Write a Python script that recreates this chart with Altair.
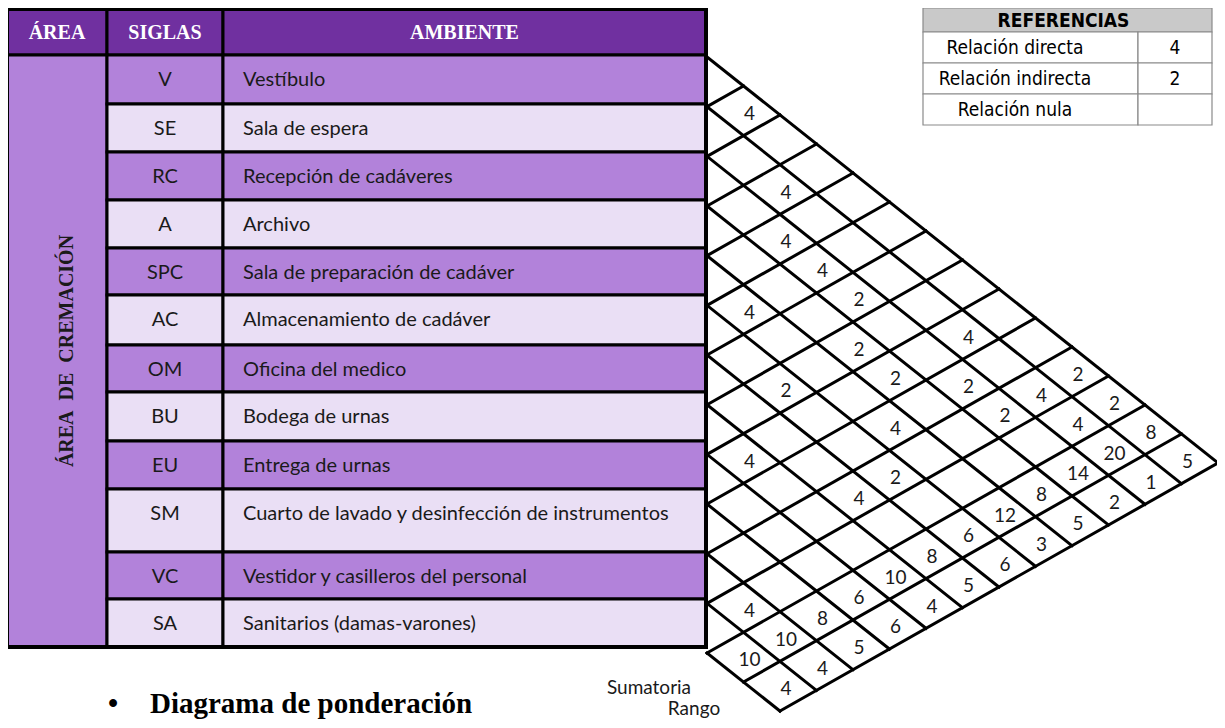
import altair as alt
import pandas as pd

# ---------------- data ----------------
siglas = ["V", "SE", "RC", "A", "SPC", "AC", "OM", "BU", "EU", "SM", "VC", "SA"]
ambientes = [
    "Vestíbulo",
    "Sala de espera",
    "Recepción de cadáveres",
    "Archivo",
    "Sala de preparación de cadáver",
    "Almacenamiento de cadáver",
    "Oficina del medico",
    "Bodega de urnas",
    "Entrega de urnas",
    "Cuarto de lavado y desinfección de instrumentos",
    "Vestidor y casilleros del personal",
    "Sanitarios (damas-varones)",
]
headers = ["ÁREA", "SIGLAS", "AMBIENTE"]
area_words = ["ÁREA", "DE", "CREMACIÓN"]

rel_from = ["V", "SE", "RC", "RC", "RC", "SPC", "A", "SE", "A", "RC", "AC",
            "RC", "SPC", "BU", "AC", "OM", "VC", "V", "SE", "V", "SE"]
rel_to = ["SE", "A", "SPC", "AC", "OM", "AC", "BU", "EU", "EU", "SM", "BU",
          "VC", "SM", "EU", "VC", "VC", "SA", "VC", "VC", "SA", "SA"]
rel_val = [4, 4, 4, 4, 2, 4, 2, 4, 2, 2, 2,
           2, 4, 4, 2, 4, 4, 2, 4, 2, 4]

sumatoria = [8, 20, 14, 8, 12, 6, 8, 10, 6, 8, 10, 10]
rango = [5, 1, 2, 5, 3, 6, 5, 4, 6, 5, 4, 4]

ref_title = "REFERENCIAS"
ref_labels = ["Relación directa", "Relación indirecta", "Relación nula"]
ref_values = ["4", "2", ""]

strip_labels = ["Sumatoria", "Rango"]
title_text = "Diagrama de ponderación"

# ---------------- layout ----------------
W, H = 1209, 712
COLS = [7, 107, 223, 706]
HEAD = [9, 55]
ROWS = [55, 104, 152, 200, 248, 295, 345, 392, 441, 489, 552, 599, 647]
C_HEAD, C_DARK, C_LIGHT = "#7030A0", "#B282DA", "#EADFF5"
TXT = "#1a1a1a"
NARROW = "Liberation Sans Narrow, Arial Narrow, DejaVu Sans Condensed, Liberation Sans"

X0, Y0, DX, DY, STEP = 707.0, 57.0, 36.5, 29.0, 49.67
n = len(siglas)
NB = n + 2  # pair triangle + sumatoria + rango strips


def lat(a, b):
    return X0 + (b - a) * DX, Y0 + a * (STEP - DY) + b * DY


xs = alt.Scale(domain=[8, 8 + W], nice=False, zero=False)
ys = alt.Scale(domain=[8, 8 + H], nice=False, zero=False, reverse=True)
X = lambda f: alt.X(f"{f}:Q", scale=xs, axis=None)
Y = lambda f: alt.Y(f"{f}:Q", scale=ys, axis=None)

# ---------------- table rectangles ----------------
rects = []
for k, h in enumerate(headers):
    rects.append(dict(x=COLS[k], x2=COLS[k + 1], y=HEAD[0], y2=HEAD[1], fill=C_HEAD))
rects.append(dict(x=COLS[0], x2=COLS[1], y=ROWS[0], y2=ROWS[-1], fill=C_DARK))
for i in range(n):
    c = C_DARK if i % 2 == 0 else C_LIGHT
    for k in (1, 2):
        rects.append(dict(x=COLS[k], x2=COLS[k + 1], y=ROWS[i], y2=ROWS[i + 1], fill=c))
rect_df = pd.DataFrame(rects)
table = alt.Chart(rect_df).mark_rect(stroke="black", strokeWidth=3).encode(
    x=X("x"), x2="x2", y=Y("y"), y2="y2", fill=alt.Color("fill:N", scale=None)
)
outer = alt.Chart(pd.DataFrame([dict(x=COLS[0], x2=COLS[-1], y=HEAD[0], y2=ROWS[-1])])).mark_rect(
    fill=None, stroke="black", strokeWidth=4
).encode(x=X("x"), x2="x2", y=Y("y"), y2="y2")

head_df = pd.DataFrame([dict(t=h, x=(COLS[k] + COLS[k + 1]) / 2, y=(HEAD[0] + HEAD[1]) / 2 + 1)
                        for k, h in enumerate(headers)])
head_txt = alt.Chart(head_df).mark_text(
    font="Liberation Serif", fontWeight="bold", fontSize=20, color="white", baseline="middle"
).encode(x=X("x"), y=Y("y"), text="t:N")

area_label = "\u00a0\u00a0".join(area_words)
area_txt = alt.Chart(pd.DataFrame([dict(t=area_label, x=67, y=(ROWS[0] + ROWS[-1]) / 2)])).mark_text(
    font="Liberation Serif", fontWeight="bold", fontSize=20, color=TXT, angle=270, baseline="middle"
).encode(x=X("x"), y=Y("y"), text="t:N")

body_df = pd.DataFrame(dict(sig=siglas, amb=ambientes, y=[r + 25 for r in ROWS[:-1]]))
body_df["xs"] = (COLS[1] + COLS[2]) / 2
body_df["xa"] = COLS[2] + 20
sig_txt = alt.Chart(body_df).mark_text(
    font="Lato", fontSize=20, color=TXT, baseline="middle"
).encode(x=X("xs"), y=Y("y"), text="sig:N")
amb_txt = alt.Chart(body_df).mark_text(
    font="Lato", fontSize=20, color=TXT, baseline="middle", align="left"
).encode(x=X("xa"), y=Y("y"), text="amb:N")

# ---------------- lattice ----------------
segs = []
for k in range(n + 1):
    x1, y1 = lat(k, k)
    x2, y2 = lat(k, NB)
    segs.append(dict(x=x1, y=y1, x2=x2, y2=y2))
for k in range(1, NB + 1):
    a0 = min(k, n)
    x1, y1 = lat(a0, k)
    x2, y2 = lat(0, k)
    segs.append(dict(x=x1, y=y1, x2=x2, y2=y2))
lines = alt.Chart(pd.DataFrame(segs)).mark_rule(color="black", strokeWidth=3, strokeCap="square").encode(
    x=X("x"), y=Y("y"), x2="x2", y2="y2"
)

cells = []
idx = {s: i for i, s in enumerate(siglas)}
for f, t, v in zip(rel_from, rel_to, rel_val):
    cells.append((idx[f] + 0.5, idx[t] + 0.5, str(v)))
for i, v in enumerate(sumatoria):
    cells.append((i + 0.5, n + 0.5, str(v)))
for i, v in enumerate(rango):
    cells.append((i + 0.5, n + 1.5, str(v)))
cell_df = pd.DataFrame([dict(x=lat(a, b)[0] + 6, y=lat(a, b)[1] + 3, t=t) for a, b, t in cells])
nums = alt.Chart(cell_df).mark_text(
    font="Lato", fontSize=19, color=TXT, baseline="middle"
).encode(x=X("x"), y=Y("y"), text="t:N")

strip_df = pd.DataFrame(dict(t=strip_labels, x=[649, 694], y=[688, 709]))
strip_txt = alt.Chart(strip_df).mark_text(
    font="Lato", fontSize=19, color=TXT, baseline="middle"
).encode(x=X("x"), y=Y("y"), text="t:N")

# ---------------- references ----------------
RX = [923, 1138, 1212]
RY = [8, 32, 63, 94, 125]
ref_rects = [dict(x=RX[0], x2=RX[2], y=RY[0], y2=RY[1], fill="#C9C9C9")]
for r in range(3):
    for c in range(2):
        ref_rects.append(dict(x=RX[c], x2=RX[c + 1], y=RY[r + 1], y2=RY[r + 2], fill="white"))
ref_box = alt.Chart(pd.DataFrame(ref_rects)).mark_rect(stroke="#8a8a8a", strokeWidth=1.2).encode(
    x=X("x"), x2="x2", y=Y("y"), y2="y2", fill=alt.Color("fill:N", scale=None)
)
ref_head = alt.Chart(pd.DataFrame([dict(t=ref_title, x=(RX[0] + RX[2]) / 2 - 4, y=21)])).mark_text(
    font=NARROW, fontWeight="bold", fontSize=19, color="black", baseline="middle"
).encode(x=X("x"), y=Y("y"), text="t:N")
ref_df = pd.DataFrame(dict(lab=ref_labels, val=ref_values,
                           y=[(RY[r + 1] + RY[r + 2]) / 2 for r in range(3)]))
ref_df["xl"] = 1015
ref_df["xv"] = (RX[1] + RX[2]) / 2
ref_lab = alt.Chart(ref_df).mark_text(
    font=NARROW, fontSize=19, color="black", baseline="middle"
).encode(x=X("xl"), y=Y("y"), text="lab:N")
ref_val = alt.Chart(ref_df).mark_text(
    font=NARROW, fontSize=19, color="black", baseline="middle"
).encode(x=X("xv"), y=Y("y"), text="val:N")

# ---------------- bottom title ----------------
title_df = pd.DataFrame([dict(t="•", x=108, y=713), dict(t=title_text, x=150, y=713)])
title_txt = alt.Chart(title_df).mark_text(
    font="Liberation Serif", fontWeight="bold", fontSize=29, color="black",
    baseline="alphabetic", align="left"
).encode(x=X("x"), y=Y("y"), text="t:N")

chart = alt.layer(
    table, outer, head_txt, area_txt, sig_txt, amb_txt,
    lines, nums, strip_txt,
    ref_box, ref_head, ref_lab, ref_val, title_txt
).properties(
    width=W, height=H, padding=0, autosize=alt.AutoSizeParams(type="none")
).configure_view(stroke=None)

chart.save("out.html", embed_options={"renderer": "svg", "actions": False})
